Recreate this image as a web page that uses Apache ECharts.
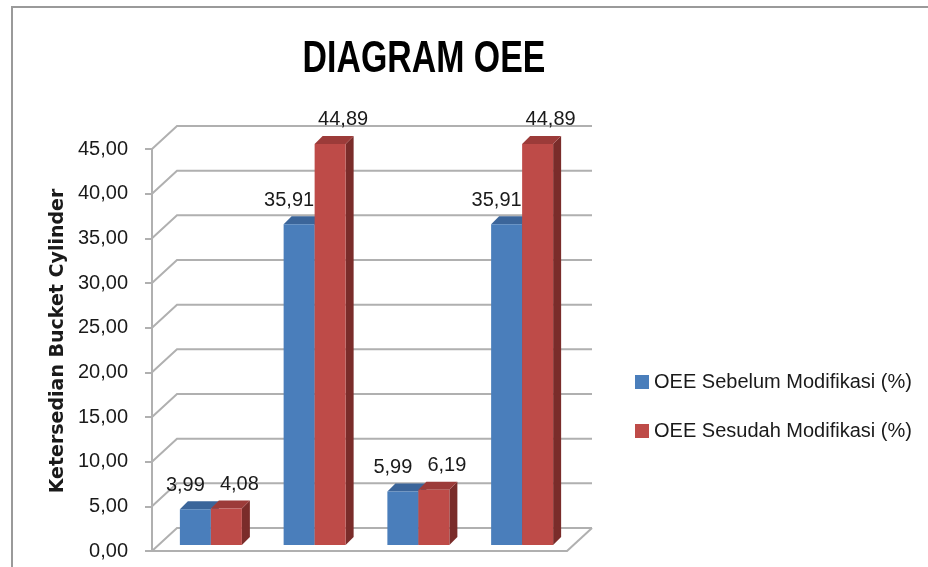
<!DOCTYPE html>
<html>
<head>
<meta charset="utf-8">
<title>Diagram OEE</title>
<script src="https://cdn.jsdelivr.net/npm/echarts@6.0.0/dist/echarts.min.js"></script>
<style>
    html, body { margin: 0; padding: 0; background: #fff; }
    #chart { width: 928px; height: 567px; }
</style>
</head>
<body>
<div id="chart"></div>
<script>
const categories = ["1", "2", "3", "4"];
const sebelum = [3.99, 35.91, 5.99, 35.91];
const sesudah = [4.08, 44.89, 6.19, 44.89];
const yTicks = [0, 5, 10, 15, 20, 25, 30, 35, 40, 45];
const seriesNames = ["OEE Sebelum Modifikasi (%)", "OEE Sesudah Modifikasi (%)"];
const titleText = "DIAGRAM OEE";
const yAxisTitle = "Ketersedian Bucket Cylinder";

// fake 3D look of the excel chart
const WALL_DX = 25, WALL_DY = -23;
const BAR_W = 31, BAR_DEPTH = 8, BAR_SHIFT_X = 7, BAR_SHIFT_Y = -6;
const GRID_COLOR = "#b0b0b0";
const FONT = '"Liberation Sans", Arial, sans-serif';

const fmt = (v) => v.toFixed(2).replace(".", ",");

function renderWall(params, api) {
    const cs = params.coordSys;
    const v = api.value(1);
    const y = api.coord([0, v])[1];
    const x0 = cs.x, x1 = cs.x + cs.width;
    const style = { stroke: GRID_COLOR, lineWidth: 2, fill: null };
    const children = [{
        type: "polyline",
        shape: { points: [[x0, y], [x0 + WALL_DX, y + WALL_DY], [x1 + WALL_DX, y + WALL_DY]] },
        style: style,
    }];
    if (v === 0) {
        // right edge of the floor
        children.push({
            type: "line",
            shape: { x1: x1 + WALL_DX, y1: y + WALL_DY, x2: x1, y2: y },
            style: style,
        });
    }
    return { type: "group", children: children };
}

function barRenderer(leftSide, colors) {
    return function (params, api) {
        const idx = api.value(0), val = api.value(1);
        const base = api.coord([idx, 0]);
        const top = api.coord([idx, val]);
        const x = base[0] + BAR_SHIFT_X - (leftSide ? BAR_W : 0);
        const yb = base[1] + BAR_SHIFT_Y, yt = top[1] + BAR_SHIFT_Y;
        const d = BAR_DEPTH;
        return {
            type: "group",
            children: [
                {
                    type: "polygon",
                    shape: { points: [[x + BAR_W, yt], [x + BAR_W + d, yt - d], [x + BAR_W + d, yb - d], [x + BAR_W, yb]] },
                    style: { fill: colors.side },
                },
                {
                    type: "polygon",
                    shape: { points: [[x, yt], [x + BAR_W, yt], [x + BAR_W + d, yt - d], [x + d, yt - d]] },
                    style: { fill: colors.top },
                },
                {
                    type: "rect",
                    shape: { x: x, y: yt, width: BAR_W, height: yb - yt },
                    style: { fill: colors.front },
                },
                {
                    type: "text",
                    z2: 10,
                    style: {
                        text: fmt(val),
                        x: x + BAR_W / 2 + colors.labelDx,
                        y: yt - d - 6,
                        align: "center",
                        verticalAlign: "bottom",
                        font: "20px " + FONT,
                        fill: "#1a1a1a",
                    },
                },
            ],
        };
    };
}

const blue = { front: "#4a7ebb", top: "#3b659a", side: "#2e5079", labelDx: -10 };
const red = { front: "#be4b48", top: "#9c3b39", side: "#7a2c2a", labelDx: 13 };

const chart = echarts.init(document.getElementById("chart"));

chart.setOption({
    animation: false,
    legend: {
        orient: "vertical",
        left: 630,
        top: 367,
        itemWidth: 14,
        itemHeight: 14,
        itemGap: 29,
        icon: "rect",
        data: seriesNames,
        textStyle: { fontFamily: FONT, fontSize: 20, color: "#1a1a1a" },
    },
    graphic: [
        {
            type: "rect",
            shape: { x: 12, y: 7, width: 1000, height: 1000 },
            style: { fill: null, stroke: "#9a9a9a", lineWidth: 2 },
            silent: true,
        },
        {
            // narrowed bold title, the original uses a condensed font
            type: "text",
            x: 424,
            y: 60,
            scaleX: 0.77,
            style: {
                text: titleText,
                font: "bold 44px " + FONT,
                align: "center",
                verticalAlign: "middle",
                fill: "#000",
            },
            silent: true,
        },
        {
            type: "text",
            x: 58,
            y: 341,
            rotation: Math.PI / 2,
            style: {
                text: yAxisTitle,
                font: 'bold 19px "DejaVu Sans", sans-serif',
                align: "center",
                verticalAlign: "middle",
                fill: "#1a1a1a",
            },
            silent: true,
        },
    ],
    grid: { left: 152, right: 361, top: 149, bottom: 16 },
    xAxis: {
        type: "category",
        data: categories,
        axisLine: { lineStyle: { color: GRID_COLOR, width: 2 } },
        axisTick: { show: false },
        axisLabel: { show: false },
    },
    yAxis: {
        type: "value",
        min: 0,
        max: 45,
        interval: 5,
        axisLine: { show: true, lineStyle: { color: GRID_COLOR, width: 2 } },
        axisTick: { show: true, length: 7, lineStyle: { color: GRID_COLOR, width: 2 } },
        axisLabel: {
            margin: 24,
            formatter: fmt,
            fontFamily: FONT,
            fontSize: 20,
            color: "#1a1a1a",
        },
        splitLine: { show: false },
    },
    series: [
        {
            type: "custom",
            name: "wall",
            silent: true,
            z: 1,
            renderItem: renderWall,
            data: yTicks.map((v) => [0, v]),
            encode: { x: 0, y: 1 },
        },
        {
            type: "custom",
            name: seriesNames[0],
            z: 2,
            itemStyle: { color: blue.front },
            renderItem: barRenderer(true, blue),
            data: sebelum.map((v, i) => [i, v]),
            encode: { x: 0, y: 1 },
        },
        {
            type: "custom",
            name: seriesNames[1],
            z: 3,
            itemStyle: { color: red.front },
            renderItem: barRenderer(false, red),
            data: sesudah.map((v, i) => [i, v]),
            encode: { x: 0, y: 1 },
        },
    ],
});
</script>
</body>
</html>
